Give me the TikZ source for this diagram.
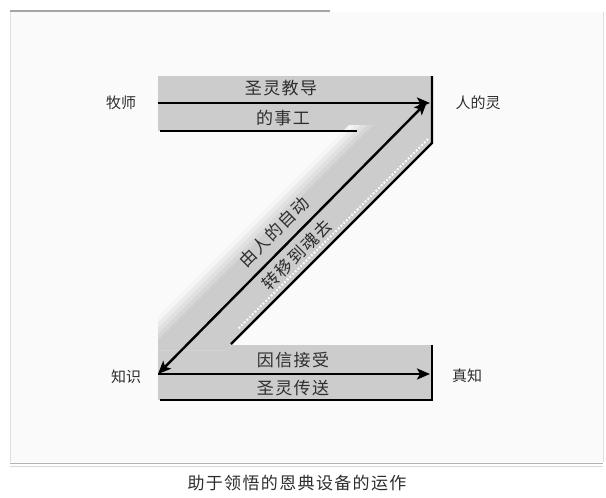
\documentclass[tikz,border=0pt]{standalone}
\usepackage{fontspec}
\newfontfamily\cjk{Noto Sans CJK SC}
\newfontfamily\cjksp{Noto Sans CJK SC}[LetterSpace=8]
\usetikzlibrary{arrows.meta}
\definecolor{band}{gray}{0.80}
\definecolor{ink}{gray}{0.18}
\tikzset{
  lbl/.style={font=\cjk\fontsize{15}{15}\selectfont, text=ink, inner sep=0pt},
  bandlbl/.style={font=\cjksp\fontsize{17}{17}\selectfont, text=ink, inner sep=0pt},
  caplbl/.style={font=\cjksp\fontsize{17}{17}\selectfont, text=ink, inner sep=0pt},
  heavy/.style={line width=2.4pt, black},
  arr/.style={heavy, -{Stealth[length=13pt,width=11pt,inset=3pt]}},
  darr/.style={heavy, {Stealth[length=13pt,width=11pt,inset=3pt]}-{Stealth[length=13pt,width=11pt,inset=3pt]}},
  frameline/.style={line width=1.4pt, gray!70},
}
\begin{document}
\begin{tikzpicture}[x=1pt,y=-1pt]
\useasboundingbox (0,0) rectangle (606,498);
% frame
\fill[black!2] (10,12) rectangle (603,462);
\draw[frameline] (10,11) -- (330,11);
\draw[gray!25, line width=1pt] (10,12) -- (10,462);
\draw[gray!25, line width=1pt] (603,12) -- (603,462);
\draw[gray!60, line width=1pt] (10,463) -- (603,463);
\draw[gray!30, line width=0.8pt] (10,466) -- (603,466);
% grey bands
\fill[band] (158,76) rectangle (432,131);
\fill[band] (158,345) rectangle (432,400);
\begin{scope}
\clip (158,125) rectangle (432,350);
\foreach \s/\c in {474/4,480/8,486/12,492/16,498/20}{
  \fill[black!\c] (\s-125,125) -- (432,125) -- (432,144) -- (227,350) -- (\s-350,350) -- cycle;
}
\end{scope}
\draw[white, line width=1.8pt, dotted] (428,139) -- (238,329);
% coordinates
\coordinate (tl) at (158,103);
\coordinate (tr) at (430,103);
\coordinate (bl) at (158,374);
\coordinate (br) at (430,374);
\coordinate (dtop) at (427,102);
\coordinate (zt) at (432,76);
\coordinate (zc) at (432,143);
\coordinate (zb) at (231,344);
\coordinate (ub) at (160,131);
\coordinate (ue) at (357,131);
\coordinate (lt) at (432,345);
\coordinate (lc) at (432,400);
\coordinate (ll) at (160,400);
% black lines
\draw[heavy, line join=miter] (zt) -- (zc) -- (zb);
\draw[line width=2pt] (ub) -- (ue);
\draw[heavy, line join=miter] (lt) -- (lc) -- (ll);
\draw[arr] (tl) -- (tr);
\draw[arr] (bl) -- (br);
\draw[darr] (bl) -- (dtop);
% labels
\node[lbl] (pastor) at (121,103) {牧师};
\node[lbl] (spirit) at (478,103) {人的灵};
\node[lbl] (know) at (126,377) {知识};
\node[lbl] (truek) at (467,376) {真知};
\node[bandlbl] (t1) at (281,88) {圣灵教导};
\node[bandlbl] (t2) at (283,118) {的事工};
\node[bandlbl] (b1) at (293,360) {因信接受};
\node[bandlbl] (b2) at (293,388) {圣灵传送};
\node[bandlbl, rotate=45] (d1) at (274,232) {由人的自动};
\node[bandlbl, rotate=45] (d2) at (297,255) {转移到魂去};
\node[caplbl] (cap) at (297,483) {助于领悟的恩典设备的运作};
\end{tikzpicture}
\end{document}
